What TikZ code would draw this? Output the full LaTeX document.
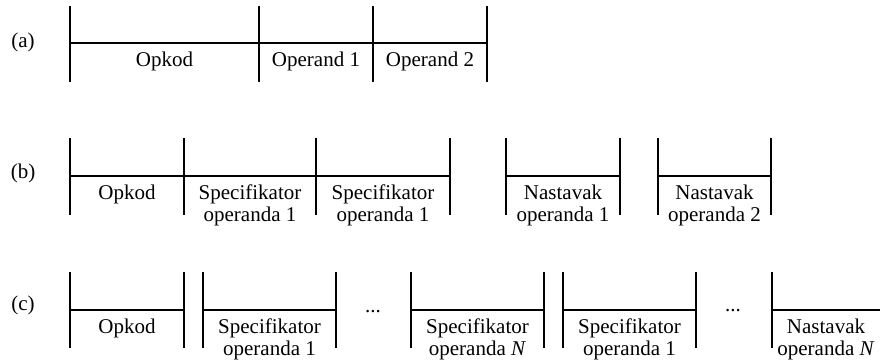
\documentclass[tikz,border=0pt]{standalone}
\usepackage{fontspec}
\setmainfont{Liberation Serif}
\begin{document}
\begin{tikzpicture}[x=1pt,y=-1pt,line width=1.6pt,
    font=\fontsize{21}{22}\selectfont,
    feld/.style={anchor=north,align=center,inner sep=0pt}]
            \useasboundingbox (0,0) rectangle (880,360);
            \node[anchor=center] (la) at (23,42) {(a)};
            \node[anchor=center] (lb) at (23,173) {(b)};
            \node[anchor=center] (lc) at (23,305) {(c)};
            % (a)
            \draw (70,43) -- (487,43);
            \draw (70,6) -- (70,82);
            \draw (259,6) -- (259,82);
            \draw (373,6) -- (373,82);
            \draw (487,6) -- (487,82);
            \node[feld] (a1) at (164.5,51) {Opkod};
            \node[feld] (a2) at (316,51) {Operand 1};
            \node[feld] (a3) at (430,51) {Operand 2};
            % (b)
            \draw (70,176) -- (450,176);
            \draw (506,176) -- (620,176);
            \draw (658,176) -- (771,176);
            \draw (70,138) -- (70,215);
            \draw (184,138) -- (184,215);
            \draw (316,138) -- (316,215);
            \draw (450,138) -- (450,215);
            \draw (506,138) -- (506,215);
            \draw (620,138) -- (620,215);
            \draw (658,138) -- (658,215);
            \draw (771,138) -- (771,215);
            \node[feld] (b1) at (127,184) {Opkod};
            \node[feld] (b2) at (250,184) {Specifikator\\operanda 1};
            \node[feld] (b3) at (383,184) {Specifikator\\operanda 1};
            \node[feld] (b4) at (563,184) {Nastavak\\operanda 1};
            \node[feld] (b5) at (714.5,184) {Nastavak\\operanda 2};
            % (c)
            \draw (70,310) -- (184,310);
            \draw (203,310) -- (336,310);
            \draw (411,310) -- (544,310);
            \draw (563,310) -- (696,310);
            \draw (772,310) -- (880,310);
            \draw (70,272) -- (70,348);
            \draw (184,272) -- (184,348);
            \draw (203,272) -- (203,348);
            \draw (336,272) -- (336,348);
            \draw (411,272) -- (411,348);
            \draw (544,272) -- (544,348);
            \draw (563,272) -- (563,348);
            \draw (696,272) -- (696,348);
            \draw (772,272) -- (772,348);
            \node[feld] (c1) at (127,318) {Opkod};
            \node[feld] (c2) at (269.5,318) {Specifikator\\operanda 1};
            \node[anchor=base] (d1) at (373,312) {...};
            \node[feld] (c3) at (477.5,318) {Specifikator\\operanda \textit{N}};
            \node[feld] (c4) at (629.5,318) {Specifikator\\operanda 1};
            \node[anchor=base] (d2) at (733,311) {...};
            \node[feld] (c5) at (826,318) {Nastavak\\operanda \textit{N}};
        \end{tikzpicture}
\end{document}
